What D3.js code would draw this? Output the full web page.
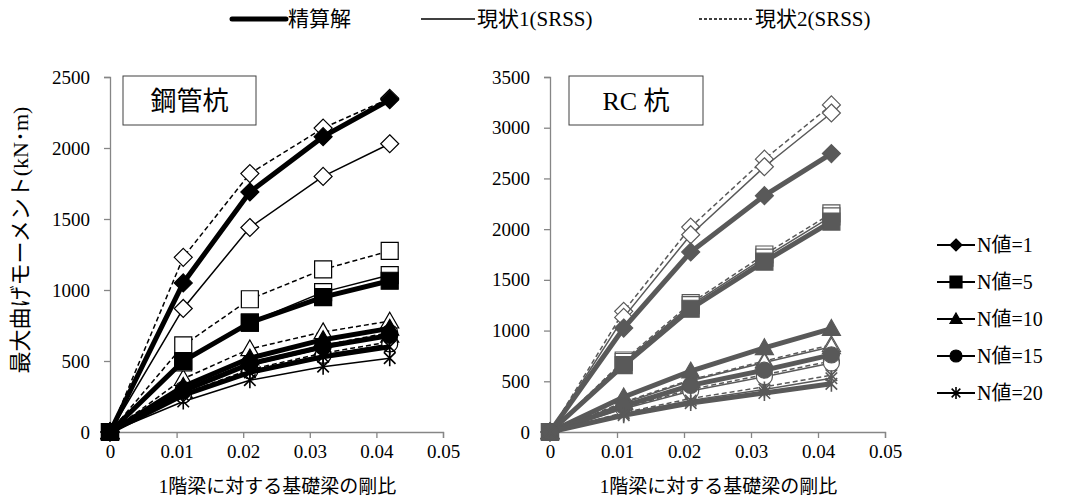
<!DOCTYPE html>
<html>
<head>
<meta charset="utf-8">
<script src="https://cdn.jsdelivr.net/npm/d3@7"></script>
<style>
body { margin: 0; background: #fff; }
text { font-family: "Liberation Serif", "Noto Sans CJK JP", serif; }
</style>
</head>
<body>
<script>
var width = 1089;
var height = 504;
var serif = '"Liberation Serif", "Noto Sans CJK JP", serif';

var xVals = [0, 0.011, 0.021, 0.032, 0.042];
var xTicks = [0, 0.01, 0.02, 0.03, 0.04, 0.05];
var steelTicks = [0, 500, 1000, 1500, 2000, 2500];
var rcTicks = [0, 500, 1000, 1500, 2000, 2500, 3000, 3500];
var nLabels = ['N値=1', 'N値=5', 'N値=10', 'N値=15', 'N値=20'];
var shapes = ['diamond', 'square', 'triangle', 'circle', 'asterisk'];
var caseLabels = ['精算解', '現状1(SRSS)', '現状2(SRSS)'];

// 鋼管杭
var steelExact = [
  [0, 1050, 1690, 2080, 2340],
  [0, 500, 770, 950, 1065],
  [0, 320, 520, 650, 730],
  [0, 290, 480, 600, 680],
  [0, 260, 420, 530, 600]
];
var steelSrss1 = [
  [0, 870, 1440, 1800, 2030],
  [0, 490, 770, 985, 1105],
  [0, 290, 470, 590, 680],
  [0, 260, 430, 540, 620],
  [0, 215, 365, 460, 520]
];
var steelSrss2 = [
  [0, 1230, 1820, 2140, 2350],
  [0, 610, 935, 1145, 1275],
  [0, 375, 585, 705, 780],
  [0, 300, 490, 610, 700],
  [0, 270, 440, 555, 635]
];

// RC杭
var rcExact = [
  [0, 1025, 1775, 2330, 2745],
  [0, 660, 1215, 1680, 2075],
  [0, 345, 600, 830, 1020],
  [0, 255, 460, 610, 760],
  [0, 165, 285, 385, 475]
];
var rcSrss1 = [
  [0, 1130, 1945, 2615, 3145],
  [0, 690, 1250, 1720, 2125],
  [0, 285, 505, 685, 840],
  [0, 230, 405, 545, 680],
  [0, 180, 310, 420, 530]
];
var rcSrss2 = [
  [0, 1190, 2020, 2690, 3225],
  [0, 705, 1270, 1750, 2155],
  [0, 295, 515, 700, 860],
  [0, 240, 420, 565, 700],
  [0, 190, 330, 445, 560]
];

var svg = d3.select('body').append('svg').attr('width', width).attr('height', height);

function markerPath(shape, r) {
  if (shape === 'diamond') return 'M0,' + (-r) + 'L' + r + ',0L0,' + r + 'L' + (-r) + ',0Z';
  if (shape === 'square') return 'M' + (-r) + ',' + (-r) + 'H' + r + 'V' + r + 'H' + (-r) + 'Z';
  if (shape === 'triangle') return 'M0,' + (-r) + 'L' + r + ',' + (r * 0.75) + 'L' + (-r) + ',' + (r * 0.75) + 'Z';
  if (shape === 'circle') return d3.symbol().type(d3.symbolCircle).size(Math.PI * r * r)();
  var d = r * 0.72;
  return 'M0,' + (-r) + 'V' + r + 'M' + (-d) + ',' + (-d) + 'L' + d + ',' + d + 'M' + (-d) + ',' + d + 'L' + d + ',' + (-d);
}

function drawMarker(g, shape, r, color, filled) {
  var p = g.append('path').attr('d', markerPath(shape, r)).attr('stroke', color);
  if (shape === 'asterisk') p.attr('fill', 'none').attr('stroke-width', 1.6);
  else p.attr('fill', filled ? color : '#fff').attr('stroke-width', 1.2);
}

var sizes = { diamond: 9, square: 8.5, triangle: 9, circle: 8, asterisk: 8 };

function chart(opt) {
  var x = d3.scaleLinear().domain([0, 0.05]).range([opt.left, opt.right]);
  var y = d3.scaleLinear().domain([0, opt.max]).range([432, 77]);
  var g = svg.append('g');
  var line = d3.line().x(function(d, i) { return x(xVals[i]); }).y(function(d) { return y(d); });

  var xAxis = d3.axisBottom(x).tickValues(xTicks).tickSize(6).tickPadding(7)
    .tickFormat(function(d) { return d === 0 ? '0' : d.toFixed(2); });
  var yAxis = d3.axisLeft(y).tickValues(opt.ticks).tickSize(6).tickPadding(opt.pad)
    .tickFormat(d3.format('d'));
  var ax = g.append('g').attr('transform', 'translate(0,432)').call(xAxis);
  var ay = g.append('g').attr('transform', 'translate(' + opt.left + ',0)').call(yAxis);
  [ax, ay].forEach(function(a) {
    a.attr('font-family', null).attr('font-size', null);
    a.select('.domain').attr('stroke', '#868686').attr('stroke-width', 1.3);
    a.selectAll('.tick line').attr('stroke', '#868686').attr('stroke-width', 1.3);
    a.selectAll('text').attr('fill', '#000').style('font-size', '19px').style('font-family', serif);
  });

  var groups = [
    { data: opt.srss2, w: 1.5, dash: '5,3', filled: false },
    { data: opt.srss1, w: 1.5, dash: null, filled: false },
    { data: opt.exact, w: 5, dash: null, filled: true }
  ];
  groups.forEach(function(grp) {
    grp.data.forEach(function(vals) {
      g.append('path').attr('d', line(vals)).attr('fill', 'none')
        .attr('stroke', opt.color).attr('stroke-width', grp.w)
        .attr('stroke-dasharray', grp.dash);
    });
    grp.data.forEach(function(vals, k) {
      vals.forEach(function(v, i) {
        var m = g.append('g').attr('transform', 'translate(' + x(xVals[i]) + ',' + y(v) + ')');
        drawMarker(m, shapes[k], sizes[shapes[k]], opt.color, grp.filled);
      });
    });
  });

  g.append('rect').attr('x', opt.box[0]).attr('y', 76).attr('width', opt.box[1]).attr('height', 49)
    .attr('fill', '#fff').attr('stroke', '#404040').attr('stroke-width', 1);
  g.append('text').attr('x', opt.box[0] + opt.box[1] / 2).attr('y', 110)
    .attr('text-anchor', 'middle').style('font-size', '26px').text(opt.title);

  g.append('text').attr('x', (opt.left + opt.right) / 2 + 1).attr('y', 493)
    .attr('text-anchor', 'middle').style('font-size', '19px').text('1階梁に対する基礎梁の剛比');
}

chart({ left: 110, right: 443, max: 2500, ticks: steelTicks, pad: 14, color: '#000',
  exact: steelExact, srss1: steelSrss1, srss2: steelSrss2, title: '鋼管杭', box: [123, 133] });
chart({ left: 550, right: 885, max: 3500, ticks: rcTicks, pad: 14, color: '#595959',
  exact: rcExact, srss1: rcSrss1, srss2: rcSrss2, title: 'RC 杭', box: [569, 134] });

// y axis title
svg.append('text').attr('transform', 'translate(28,240) rotate(-90)')
  .attr('text-anchor', 'middle').style('font-size', '22px').text('最大曲げモーメント(kN･m)');

// top legend
var topLeg = [
  { x: 232, w: 5, dash: null },
  { x: 421, w: 1.5, dash: null },
  { x: 699, w: 1.5, dash: '3,2' }
];
topLeg.forEach(function(d, i) {
  svg.append('line').attr('x1', d.x).attr('x2', d.x + 54).attr('y1', 19).attr('y2', 19)
    .attr('stroke', '#000').attr('stroke-width', d.w).attr('stroke-dasharray', d.dash)
    .attr('stroke-linecap', i === 0 ? 'round' : 'butt');
  svg.append('text').attr('x', d.x + 56).attr('y', 26).style('font-size', '21px').text(caseLabels[i]);
});

// right legend
nLabels.forEach(function(lab, k) {
  var yy = 245 + k * 37;
  svg.append('line').attr('x1', 937).attr('x2', 975).attr('y1', yy).attr('y2', yy)
    .attr('stroke', '#000').attr('stroke-width', 2);
  var m = svg.append('g').attr('transform', 'translate(956,' + yy + ')');
  drawMarker(m, shapes[k], 6, '#000', true);
  svg.append('text').attr('x', 977).attr('y', yy + 7).style('font-size', '20px').text(lab);
});
</script>
</body>
</html>
